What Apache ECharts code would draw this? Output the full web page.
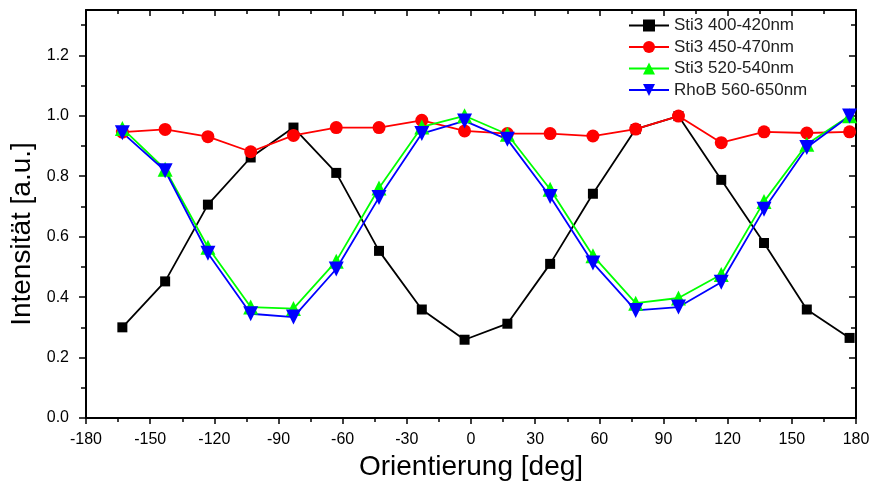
<!DOCTYPE html>
<html>
<head>
<meta charset="utf-8">
<script src="https://cdn.jsdelivr.net/npm/echarts@6/dist/echarts.min.js"></script>
<style>
  html, body { margin: 0; padding: 0; background: #fff; }
  #chart { width: 873px; height: 483px; }
</style>
</head>
<body>
<div id="chart"></div>
<script>
// orientation angles (deg)
const angles = [-163, -143, -123, -103, -83, -63, -43, -23, -3, 17, 37, 57, 77, 97, 117, 137, 157, 177];

const seriesNames = ['Sti3 400-420nm', 'Sti3 450-470nm', 'Sti3 520-540nm', 'RhoB 560-650nm'];

const sti3_400 = [0.300, 0.452, 0.706, 0.862, 0.961, 0.811, 0.553, 0.359, 0.259,
                  0.312, 0.510, 0.742, 0.956, 0.999, 0.788, 0.579, 0.359, 0.265];
const sti3_450 = [0.946, 0.955, 0.931, 0.881, 0.935, 0.961, 0.961, 0.985, 0.950,
                  0.941, 0.941, 0.933, 0.956, 0.999, 0.911, 0.947, 0.943, 0.947];
const sti3_520 = [0.958, 0.823, 0.565, 0.367, 0.362, 0.519, 0.761, 0.963, 1.000,
                  0.939, 0.757, 0.537, 0.380, 0.397, 0.475, 0.716, 0.906, 1.000];
const rhob_560 = [0.944, 0.818, 0.545, 0.345, 0.334, 0.493, 0.730, 0.941, 0.983,
                  0.922, 0.733, 0.513, 0.356, 0.367, 0.449, 0.691, 0.895, 0.999];

// tick values
const yLabelTicks = [0, 0.2, 0.4, 0.6, 0.8, 1.0, 1.2];
const yMinorTicks = [0.1, 0.3, 0.5, 0.7, 0.9, 1.1, 1.3];

const font = 'Arial, "Liberation Sans", sans-serif';
const chart = echarts.init(document.getElementById('chart'));

const pair = (vals) => angles.map((a, i) => [a, vals[i]]);

const lineSeries = (name, vals, color, symbol, size, rotate) => ({
  name: name,
  type: 'line',
  data: pair(vals),
  symbol: symbol,
  symbolSize: size,
  symbolRotate: rotate || 0,
  showAllSymbol: true,
  lineStyle: { color: color, width: 1.8 },
  itemStyle: { color: color },
  emphasis: { disabled: true },
  animation: false
});

const yBase = {
  type: 'value',
  min: 0,
  max: 1.35,
  splitLine: { show: false }
};

const option = {
  animation: false,
  grid: { left: 86, right: 17, top: 10, bottom: 65, containLabel: false, outerBoundsMode: 'none' },
  legend: {
    orient: 'vertical',
    left: 628,
    top: 17,
    padding: 0,
    itemWidth: 40,
    itemHeight: 15,
    itemGap: 4.5,
    textStyle: { fontFamily: font, fontSize: 17, color: '#222' },
    data: seriesNames
  },
  xAxis: [
    {
      type: 'value',
      min: -180,
      max: 180,
      interval: 30,
      position: 'bottom',
      name: 'Orientierung [deg]',
      nameLocation: 'middle',
      nameGap: 33,
      nameTextStyle: { fontFamily: font, fontSize: 28, color: '#000' },
      axisLine: { show: true, onZero: false, lineStyle: { color: '#000', width: 2 } },
      axisTick: { show: true, inside: false, length: 6, lineStyle: { color: '#000', width: 1.5 } },
      minorTick: { show: true, splitNumber: 2, length: 4, lineStyle: { color: '#000', width: 1.5 } },
      axisLabel: { fontFamily: font, fontSize: 16, color: '#000', margin: 14 },
      splitLine: { show: false }
    },
    {
      type: 'value',
      min: -180,
      max: 180,
      interval: 30,
      position: 'top',
      axisLine: { show: true, onZero: false, lineStyle: { color: '#000', width: 2 } },
      axisTick: { show: true, inside: true, length: 6, lineStyle: { color: '#000', width: 1.5 } },
      minorTick: { show: true, splitNumber: 2, length: 4, lineStyle: { color: '#000', width: 1.5 } },
      axisLabel: { show: false },
      splitLine: { show: false }
    }
  ],
  yAxis: [
    Object.assign({}, yBase, {
      position: 'left',
      name: 'Intensität [a.u.]',
      nameLocation: 'middle',
      nameGap: 44,
      nameTextStyle: { fontFamily: font, fontSize: 28, color: '#000', padding: [0, 40, 0, 0] },
      axisLine: { show: true, onZero: false, lineStyle: { color: '#000', width: 2 } },
      axisTick: { show: true, inside: false, length: 7, customValues: yLabelTicks, lineStyle: { color: '#000', width: 1.5 } },
      axisLabel: {
        fontFamily: font, fontSize: 16, color: '#000', margin: 17,
        customValues: yLabelTicks,
        formatter: (v) => v.toFixed(1)
      }
    }),
    Object.assign({}, yBase, {
      position: 'left',
      axisLine: { show: false, onZero: false },
      axisTick: { show: true, inside: false, length: 5, customValues: yMinorTicks, lineStyle: { color: '#000', width: 1.5 } },
      axisLabel: { show: false }
    }),
    Object.assign({}, yBase, {
      position: 'right',
      axisLine: { show: true, onZero: false, lineStyle: { color: '#000', width: 2 } },
      axisTick: { show: true, inside: true, length: 7, customValues: yLabelTicks, lineStyle: { color: '#000', width: 1.5 } },
      axisLabel: { show: false }
    }),
    Object.assign({}, yBase, {
      position: 'right',
      axisLine: { show: false, onZero: false },
      axisTick: { show: true, inside: true, length: 5, customValues: yMinorTicks, lineStyle: { color: '#000', width: 1.5 } },
      axisLabel: { show: false }
    })
  ],
  series: [
    lineSeries(seriesNames[0], sti3_400, '#000000', 'rect', 10),
    lineSeries(seriesNames[1], sti3_450, '#ff0000', 'circle', 13),
    lineSeries(seriesNames[2], sti3_520, '#00ff00', 'triangle', 15),
    lineSeries(seriesNames[3], rhob_560, '#0000ff', 'triangle', 15, 180)
  ]
};

chart.setOption(option);
</script>
</body>
</html>
